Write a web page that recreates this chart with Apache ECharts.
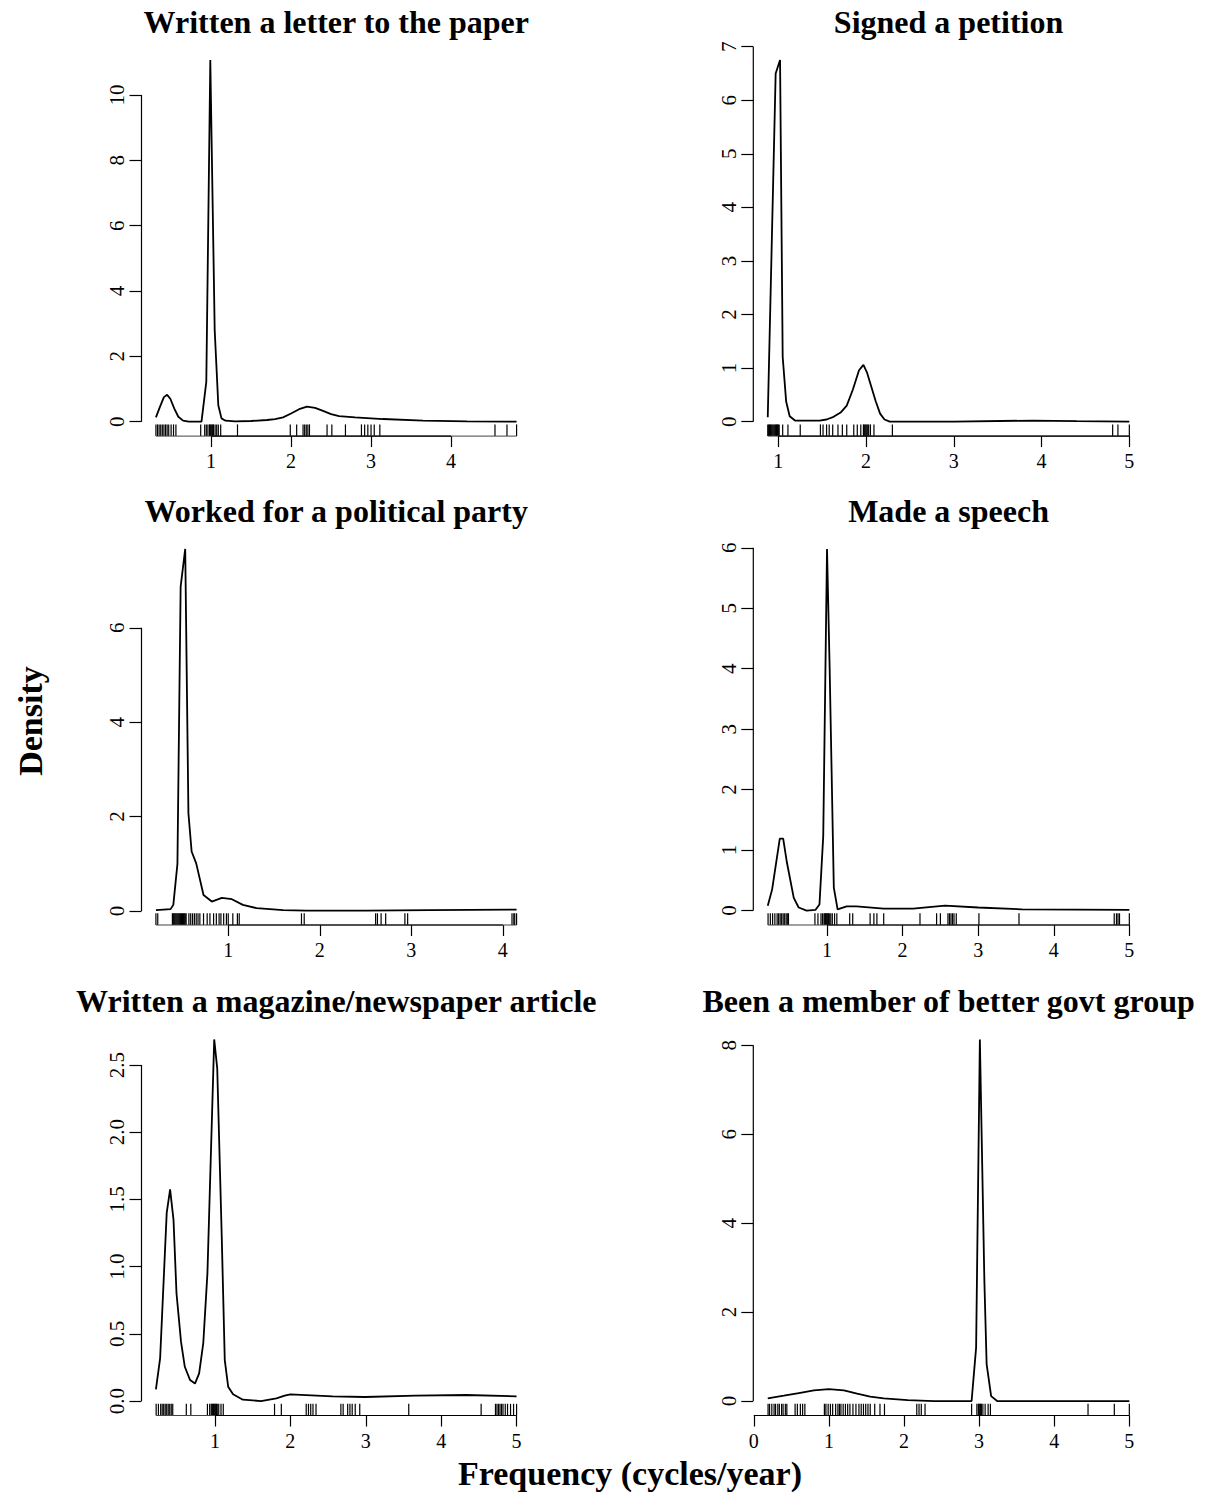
<!DOCTYPE html>
<html><head><meta charset="utf-8">
<script src="https://cdn.jsdelivr.net/npm/echarts@6/dist/echarts.min.js"></script>
<style>html,body{margin:0;padding:0;background:#fff}#c{width:1211px;height:1492px}</style>
</head><body><div id="c"></div>
<script>
// ---------- DATA ----------
const titles = ["Written a letter to the paper", "Signed a petition", "Worked for a political party",
  "Made a speech", "Written a magazine/newspaper article", "Been a member of better govt group"];
const xAxisTitle = "Frequency (cycles/year)";
const yAxisTitle = "Density";

// Written a letter to the paper
const letterX = [0.31,0.36,0.41,0.45,0.49,0.54,0.59,0.65,0.72,0.80,0.88,0.94,0.99,1.045,1.09,1.13,1.18,1.3,1.5,1.7,1.8,1.9,2.0,2.1,2.2,2.3,2.4,2.5,2.6,2.8,3.15,3.65,4.2,4.82];
const letterY = [0.13,0.45,0.75,0.82,0.7,0.4,0.15,0.03,0.0,0.0,0.0,1.22,11.07,2.8,0.5,0.1,0.03,0.01,0.02,0.05,0.08,0.13,0.25,0.38,0.46,0.42,0.33,0.23,0.17,0.13,0.08,0.03,0.01,0.0];
const letterRug = [0.31,0.33,0.35,0.37,0.39,0.41,0.43,0.45,0.47,0.50,0.53,0.56,0.87,0.92,0.94,0.96,0.98,0.99,1.0,1.01,1.02,1.03,1.05,1.07,1.09,1.12,1.33,1.99,2.07,2.15,2.17,2.19,2.21,2.23,2.45,2.51,2.68,2.88,2.92,2.96,3.0,3.04,3.11,4.55,4.70,4.82];
const letterXTicks = [1,2,3,4];
const letterYTicks = [0,2,4,6,8,10];

// Signed a petition
const petitionX = [0.88,0.97,1.02,1.05,1.09,1.13,1.19,1.47,1.55,1.63,1.71,1.78,1.85,1.92,1.97,2.01,2.06,2.11,2.16,2.21,2.27,3.0,3.9,4.4,5.0];
const petitionY = [0.08,6.5,6.75,1.21,0.37,0.1,0.02,0.02,0.04,0.09,0.17,0.3,0.6,0.96,1.06,0.92,0.65,0.38,0.15,0.04,0.0,0.0,0.02,0.01,0.0];
const petitionRug = [0.88,0.89,0.9,0.91,0.92,0.93,0.94,0.95,0.96,0.97,0.98,0.99,1.0,1.01,1.05,1.11,1.25,1.48,1.51,1.55,1.58,1.62,1.68,1.73,1.78,1.86,1.90,1.94,1.97,1.98,1.99,2.0,2.01,2.02,2.03,2.05,2.09,2.30,4.81,4.87,5.0];
const petitionXTicks = [1,2,3,4,5];
const petitionYTicks = [0,1,2,3,4,5,6,7];

// Worked for a political party
const partyX = [0.21,0.37,0.40,0.445,0.48,0.53,0.565,0.60,0.65,0.73,0.82,0.93,1.04,1.16,1.31,1.6,1.85,2.5,3.2,4.15];
const partyY = [0.02,0.04,0.13,1.0,6.87,7.67,2.07,1.26,1.01,0.34,0.2,0.28,0.25,0.13,0.06,0.02,0.01,0.01,0.02,0.03];
const partyRug = [0.21,0.23,0.39,0.40,0.41,0.42,0.43,0.44,0.45,0.46,0.47,0.48,0.49,0.50,0.51,0.52,0.53,0.54,0.57,0.59,0.61,0.63,0.65,0.67,0.69,0.73,0.77,0.80,0.84,0.87,0.90,0.92,0.95,0.98,1.00,1.05,1.10,1.12,1.80,1.83,2.61,2.63,2.67,2.72,2.93,2.96,4.10,4.12,4.13,4.15];
const partyXTicks = [1,2,3,4];
const partyYTicks = [0,2,4,6];

// Made a speech
const speechX = [0.216,0.274,0.375,0.42,0.47,0.56,0.625,0.73,0.846,0.90,0.95,1.0,1.035,1.09,1.14,1.26,1.39,1.75,2.14,2.56,3.0,3.58,5.0];
const speechY = [0.08,0.35,1.19,1.19,0.79,0.21,0.05,0.0,0.01,0.1,1.23,5.98,4.0,0.38,0.02,0.07,0.07,0.03,0.03,0.08,0.05,0.02,0.01];
const speechRug = [0.22,0.25,0.28,0.31,0.34,0.36,0.38,0.40,0.42,0.44,0.46,0.48,0.49,0.84,0.88,0.92,0.94,0.96,0.97,0.98,0.99,1.0,1.01,1.02,1.03,1.05,1.07,1.10,1.13,1.30,1.34,1.57,1.62,1.66,1.75,2.23,2.45,2.50,2.60,2.62,2.64,2.66,2.68,2.71,3.01,3.54,4.80,4.83,4.85,4.87,5.0];
const speechXTicks = [1,2,3,4,5];
const speechYTicks = [0,1,2,3,4,5,6];

// Written a magazine/newspaper article
const articleX = [0.217,0.273,0.36,0.405,0.45,0.49,0.55,0.60,0.67,0.735,0.79,0.845,0.90,0.99,1.03,1.09,1.13,1.175,1.24,1.37,1.61,1.815,1.925,2.0,2.56,2.99,3.66,4.33,5.0];
const articleY = [0.087,0.32,1.40,1.575,1.35,0.80,0.44,0.255,0.156,0.13,0.206,0.43,0.95,2.69,2.475,1.22,0.305,0.107,0.05,0.01,0.0,0.02,0.04,0.05,0.035,0.03,0.04,0.045,0.035];
const articleRug = [0.22,0.25,0.28,0.30,0.32,0.34,0.36,0.38,0.40,0.42,0.44,0.62,0.68,0.90,0.93,0.95,0.96,0.97,0.98,0.99,1.0,1.01,1.02,1.03,1.05,1.08,1.11,1.79,1.88,2.21,2.24,2.27,2.30,2.34,2.67,2.70,2.76,2.79,2.82,2.86,2.92,3.57,4.53,4.72,4.74,4.76,4.78,4.80,4.82,4.85,4.88,4.92,4.96,5.0];
const articleXTicks = [1,2,3,4,5];
const articleYTicks = [0,0.5,1,1.5,2,2.5];

// Been a member of better govt group
const govtX = [0.186,0.4,0.6,0.8,1.0,1.2,1.375,1.55,1.73,2.05,2.4,2.90,2.96,3.01,3.07,3.10,3.16,3.24,4.0,5.0];
const govtY = [0.06,0.12,0.18,0.24,0.27,0.24,0.165,0.1,0.06,0.02,0.0,0.0,1.2,8.13,2.7,0.83,0.11,0.0,0.0,0.0];
const govtRug = [0.19,0.21,0.24,0.27,0.29,0.32,0.34,0.37,0.39,0.42,0.44,0.55,0.58,0.62,0.65,0.68,0.94,0.96,0.99,1.02,1.05,1.09,1.12,1.14,1.16,1.19,1.22,1.25,1.28,1.32,1.36,1.40,1.43,1.46,1.49,1.52,1.55,1.61,1.68,1.74,2.17,2.20,2.23,2.28,2.90,2.97,2.99,3.00,3.01,3.02,3.03,3.05,3.08,3.12,3.15,4.45,4.80,5.0];
const govtXTicks = [0,1,2,3,4,5];
const govtYTicks = [0,2,4,6,8];

// ---------- LAYOUT ----------
const FONT = "'Liberation Serif','DejaVu Serif',serif";
const cols = [{left:141.5, width:389.5}, {left:753.3, width:390.5}];
const rowTops = [45.6, 534.5, 1025];
const plotH = 390.5;

const panels = [
  {t:titles[0], x:letterX, y:letterY, rug:letterRug, xt:letterXTicks, yt:letterYTicks, dec:0},
  {t:titles[1], x:petitionX, y:petitionY, rug:petitionRug, xt:petitionXTicks, yt:petitionYTicks, dec:0},
  {t:titles[2], x:partyX, y:partyY, rug:partyRug, xt:partyXTicks, yt:partyYTicks, dec:0},
  {t:titles[3], x:speechX, y:speechY, rug:speechRug, xt:speechXTicks, yt:speechYTicks, dec:0},
  {t:titles[4], x:articleX, y:articleY, rug:articleRug, xt:articleXTicks, yt:articleYTicks, dec:1},
  {t:titles[5], x:govtX, y:govtY, rug:govtRug, xt:govtXTicks, yt:govtYTicks, dec:0}
];

const grid = [], xAxis = [], yAxis = [], series = [], graphic = [];
const black = '#000';

panels.forEach((p, i) => {
  const c = cols[i % 2], top = rowTops[Math.floor(i / 2)];
  grid.push({left:c.left, top:top, width:c.width, height:plotH, containLabel:false});
  const xmin = Math.min(...p.x, ...p.rug), xmax = Math.max(...p.x, ...p.rug);
  const xpad = 0.04 * (xmax - xmin);
  const xLo = xmin - xpad, xHi = xmax + xpad;
  const ymin = Math.min(...p.y), ymax = Math.max(...p.y);
  const ypad = 0.04 * (ymax - ymin);
  const yLo = ymin - ypad, yHi = ymax + ypad;

  xAxis.push({
    gridIndex:i, type:'value', min:xLo, max:xHi, position:'bottom',
    axisLine:{show:false, onZero:false}, splitLine:{show:false},
    axisTick:{show:true, customValues:p.xt, length:11, lineStyle:{color:black, width:1.2}},
    axisLabel:{customValues:p.xt, margin:15, color:black, fontFamily:FONT, fontSize:20,
      formatter:v => String(v)}
  });
  yAxis.push({
    gridIndex:i, type:'value', min:yLo, max:yHi, position:'left',
    axisLine:{show:false, onZero:false}, splitLine:{show:false},
    axisTick:{show:true, customValues:p.yt, length:12, lineStyle:{color:black, width:1.2}},
    axisLabel:{customValues:p.yt, rotate:90, margin:14, color:black, fontFamily:FONT, fontSize:21,
      formatter:v => v.toFixed(p.dec)}
  });

  const lineBase = {type:'line', xAxisIndex:i, yAxisIndex:i, showSymbol:false, symbol:'none',
    silent:true, animation:false, clip:false};
  // y axis line (first to last tick)
  series.push(Object.assign({}, lineBase, {
    data:[[xLo, p.yt[0]], [xLo, p.yt[p.yt.length - 1]]],
    lineStyle:{color:black, width:1.2}}));
  // rug baseline
  series.push(Object.assign({}, lineBase, {
    data:[[Math.min(...p.rug), yLo], [Math.max(...p.rug), yLo]],
    lineStyle:{color:'#444', width:1}}));
  // x axis line (first to last tick)
  series.push(Object.assign({}, lineBase, {
    data:[[p.xt[0], yLo], [p.xt[p.xt.length - 1], yLo]],
    lineStyle:{color:black, width:1.2}}));
  // density curve
  series.push(Object.assign({}, lineBase, {
    data:p.x.map((v, k) => [v, p.y[k]]),
    lineStyle:{color:black, width:1.8}}));
  // rug
  series.push({
    type:'custom', xAxisIndex:i, yAxisIndex:i, silent:true, animation:false,
    data:p.rug.map(v => [v, yLo]),
    renderItem:(params, api) => {
      const pt = api.coord([api.value(0), api.value(1)]);
      const h = params.coordSys.height * 0.03;
      return {type:'line', shape:{x1:pt[0], y1:pt[1], x2:pt[0], y2:pt[1] - h},
        style:{stroke:black, lineWidth:1.2}};
    }
  });
  graphic.push({type:'text', x:c.left + c.width / 2, y:top - 23.6,
    style:{text:p.t, fill:black, font:"bold 32px " + FONT, textAlign:'center', textVerticalAlign:'middle'}});
});

graphic.push({type:'text', x:630, y:1473,
  style:{text:xAxisTitle, fill:black, font:"bold 34px " + FONT, textAlign:'center', textVerticalAlign:'middle'}});
graphic.push({type:'text', x:30, y:721, rotation:Math.PI / 2,
  style:{text:yAxisTitle, fill:black, font:"bold 34px " + FONT, textAlign:'center', textVerticalAlign:'middle'}});

const chart = echarts.init(document.getElementById('c'), null, {renderer:'svg'});
chart.setOption({backgroundColor:'#fff', animation:false, grid, xAxis, yAxis, series, graphic});
</script>
</body></html>
